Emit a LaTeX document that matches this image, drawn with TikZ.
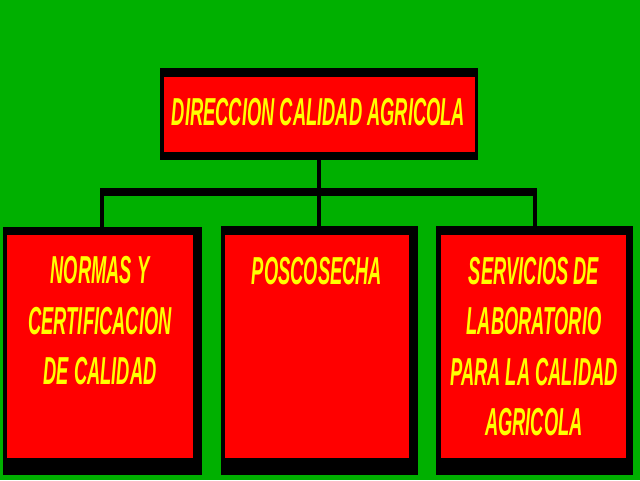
\documentclass[tikz,border=0pt]{standalone}
\usepackage{fontspec}
\newfontfamily\orgfont[FakeStretch=0.47]{Liberation Sans}
\definecolor{bggreen}{RGB}{0,176,0}
\definecolor{boxred}{RGB}{255,0,0}
\definecolor{txtyellow}{RGB}{255,255,0}
\begin{document}
\begin{tikzpicture}[x=1pt,y=-1pt,
  shadowbox/.style={fill=black},
  redbox/.style={fill=boxred,draw=none,inner sep=0pt,rectangle},
  label/.style={text=txtyellow,font=\orgfont\bfseries\itshape\fontsize{39}{50.5}\selectfont,align=center,inner sep=0pt},
  vwire/.style={draw=black,line width=4pt},
  hwire/.style={draw=black,line width=8pt}]
\fill[bggreen] (0,0) rectangle (640,480);
\useasboundingbox (0,0) rectangle (640,480);
% top box
\fill[shadowbox] (160,68) rectangle (478,160);
\node[redbox,minimum width=311pt,minimum height=75pt] (top) at (319.5,114.5) {};
\node[label] (ttop) at (318.5,112) {DIRECCION CALIDAD AGRICOLA};
% child boxes
\fill[shadowbox] (3,227) rectangle (202,475);
\node[redbox,minimum width=186pt,minimum height=223pt] (n1) at (100,346.5) {};
\fill[shadowbox] (221,226) rectangle (418,475);
\node[redbox,minimum width=184pt,minimum height=223pt] (n2) at (317,346.5) {};
\fill[shadowbox] (436,226) rectangle (633,475);
\node[redbox,minimum width=185pt,minimum height=223pt] (n3) at (533.5,346.5) {};
\node[label] (t1) at (100,321) {NORMAS Y\\CERTIFICACION\\DE CALIDAD};
\node[label] (t2) at (317,271) {POSCOSECHA};
\node[label] (t3) at (534,346.5) {SERVICIOS DE\\LABORATORIO\\PARA LA CALIDAD\\AGRICOLA};
% connectors
\coordinate (busL) at (102,192);
\coordinate (busM) at (319,192);
\coordinate (busR) at (535,192);
\draw[vwire] (busM |- top.south) -- (busM);
\draw[hwire] (100,192) -- (537,192);
\draw[vwire] (busL) -- (busL |- n1.north);
\draw[vwire] (busM) -- (busM |- n2.north);
\draw[vwire] (busR) -- (busR |- n3.north);
\end{tikzpicture}
\end{document}
